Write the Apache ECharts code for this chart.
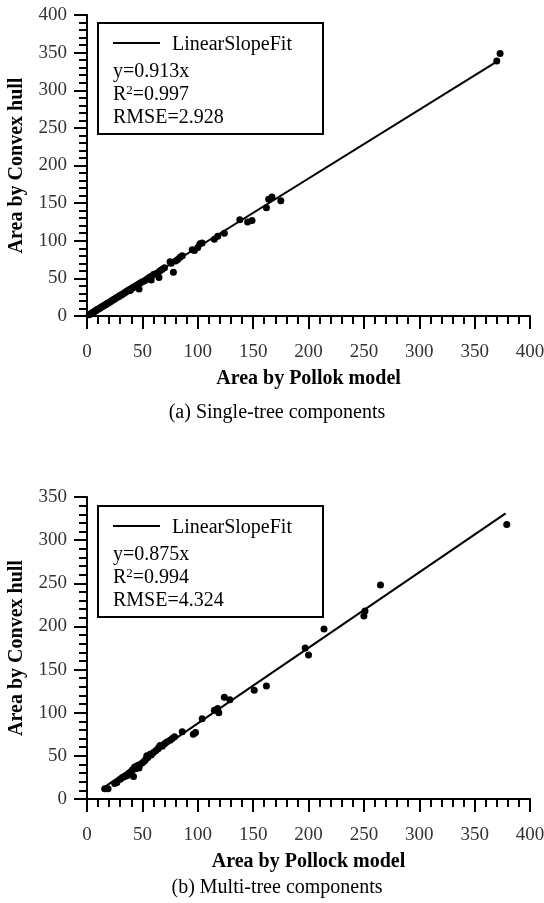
<!DOCTYPE html>
<html>
<head>
<meta charset="utf-8">
<script src="https://cdn.jsdelivr.net/npm/echarts@6/dist/echarts.min.js"></script>
<style>
  html, body { margin: 0; padding: 0; background: #fff; }
  #main { width: 544px; height: 903px; }
</style>
</head>
<body>
<div id="main"></div>
<script>
// (a) single-tree components: [Pollok area, convex hull area]
var singleTree = [
  [2,1.5],[3,2.5],[4,3.5],[5,4.5],[6,5],[7,6.5],[8,7],[9,8.5],[10,9],[11,10],
  [12,10.5],[13,12],[14,12.5],[15,13.5],[16,14.5],[17,15],[18,16.5],[19,17],[20,18],[21,19],
  [22,20],[23,21],[24,22],[25,22.5],[26,24],[27,24.5],[28,25.5],[29,26],[30,27.5],[31,28],
  [32,29],[33,30],[34,31],[35,32],[36,33],[37,34],[38,35],[39,34],[40,36.5],[41,37],
  [42,38.5],[43,39],[44,40],[45,41],[46,42],[47,36],[48,44],[50,45.5],[52,47],[54,49],
  [55,50],[57,52],[58,48],[60,55],[62,56],[64,57.5],[65,51],[66,60],[68,62],[70,64],
  [75,72],[76,70],[78,58],[80,73],[82,75],[84,78],[86,80],[95,88],[97,87],[100,91],
  [102,96],[104,97],[115,102],[118,106],[124,110],[138,128],[145,125],[149,127],[162,144],[164,155],
  [167,158],[175,153],[370,339],[373,349]
];
// (b) multi-tree components
var multiTree = [
  [16,12],[19,12],[25,18],[27,19],[30,23],[32,25],[34,26],[36,27],[38,30],[40,32],
  [41,34],[42,26],[43,37],[44,35],[45,38],[46,39],[47,36],[48,40],[50,42],[52,44],
  [53,46],[54,50],[55,48],[57,52],[58,51],[60,54],[62,56],[64,58],[65,60],[66,62],
  [68,61],[70,64],[72,66],[75,68],[77,70],[79,72],[86,78],[96,75],[98,77],[104,93],
  [115,103],[118,105],[119,100],[124,118],[129,115],[151,126],[162,131],[197,175],[200,167],[214,197],
  [250,212],[251,218],[265,248],[379,318]
];
// fitted line end points
var fitTop = [[0,0],[370,338]];
var fitBottom = [[16,14],[378,331]];

var fitName = 'LinearSlopeFit';
var statsTop = ['y=0.913x', '0.997', 'RMSE=2.928'];
var statsBottom = ['y=0.875x', '0.994', 'RMSE=4.324'];
var xNames = ['Area by Pollok model', 'Area by Pollock model'];
var yName = 'Area by Convex hull';
var captions = ['(a) Single-tree components', '(b) Multi-tree components'];

var FONT = 'Liberation Serif';

function xAxisCfg(gi, name) {
  return {
    gridIndex: gi, type: 'value', min: 0, max: 400, interval: 50,
    name: name, nameLocation: 'middle', nameGap: 53,
    nameTextStyle: { fontFamily: FONT, fontWeight: 'bold', fontSize: 20, color: '#000' },
    axisLine: { onZero: false, lineStyle: { color: '#000', width: 2 } },
    axisTick: { length: 13, lineStyle: { color: '#000', width: 2 } },
    minorTick: { show: true, splitNumber: 5, length: 8, lineStyle: { color: '#000', width: 2 } },
    axisLabel: { fontFamily: FONT, fontSize: 19, color: '#333', margin: 27 },
    splitLine: { show: false }
  };
}
function yAxisCfg(gi, max) {
  return {
    gridIndex: gi, type: 'value', min: 0, max: max, interval: 50,
    name: yName, nameLocation: 'middle', nameGap: 60, nameRotate: 90,
    nameTextStyle: { fontFamily: FONT, fontWeight: 'bold', fontSize: 20, color: '#000' },
    axisLine: { onZero: false, lineStyle: { color: '#000', width: 2 } },
    axisTick: { length: 13, lineStyle: { color: '#000', width: 2 } },
    minorTick: { show: true, splitNumber: 5, length: 8, lineStyle: { color: '#000', width: 2 } },
    axisLabel: { fontFamily: FONT, fontSize: 19, color: '#333', margin: 20 },
    splitLine: { show: false }
  };
}

function legendBox(top, stats) {
  var t = { fontFamily: FONT, fontSize: 20, fill: '#000' };
  return [
    { type: 'rect', shape: { x: 98, y: top, width: 225, height: 111 },
      style: { fill: '#fff', stroke: '#000', lineWidth: 2 }, z: 10 },
    { type: 'line', shape: { x1: 113, y1: top + 20, x2: 160, y2: top + 20 },
      style: { stroke: '#000', lineWidth: 2 }, z: 11 },
    { type: 'text', x: 172, y: top + 22, z: 11,
      style: Object.assign({ text: fitName, verticalAlign: 'middle' }, t) },
    { type: 'text', x: 113, y: top + 49, z: 11,
      style: Object.assign({ text: stats[0], verticalAlign: 'middle' }, t) },
    { type: 'text', x: 113, y: top + 72, z: 11,
      style: {
        text: '{a|R}{s|2}{a|=' + stats[1] + '}', verticalAlign: 'middle',
        rich: {
          a: { fontFamily: FONT, fontSize: 20, color: '#000' },
          s: { fontFamily: FONT, fontSize: 13, color: '#000', verticalAlign: 'top', padding: [0, 0, 9, 0] }
        }
      } },
    { type: 'text', x: 113, y: top + 95, z: 11,
      style: Object.assign({ text: stats[2], verticalAlign: 'middle' }, t) }
  ];
}

var myChart = echarts.init(document.getElementById('main'));
var option = {
  animation: false,
  backgroundColor: '#fff',
  title: [
    { text: captions[0], left: 272, top: 398, textAlign: 'center',
      textStyle: { fontFamily: FONT, fontSize: 20, fontWeight: 'normal', color: '#000' } },
    { text: captions[1], left: 272, top: 873, textAlign: 'center',
      textStyle: { fontFamily: FONT, fontSize: 20, fontWeight: 'normal', color: '#000' } }
  ],
  grid: [
    { left: 87, top: 15, width: 443, height: 301, outerBoundsMode: 'none' },
    { left: 87, top: 497, width: 443, height: 302, outerBoundsMode: 'none' }
  ],
  xAxis: [xAxisCfg(0, xNames[0]), xAxisCfg(1, xNames[1])],
  yAxis: [yAxisCfg(0, 400), yAxisCfg(1, 350)],
  series: [
    { type: 'scatter', xAxisIndex: 0, yAxisIndex: 0, data: singleTree,
      symbolSize: 7, itemStyle: { color: '#000', opacity: 1 } },
    { type: 'line', xAxisIndex: 0, yAxisIndex: 0, data: fitTop, showSymbol: false,
      lineStyle: { color: '#000', width: 2 } },
    { type: 'scatter', xAxisIndex: 1, yAxisIndex: 1, data: multiTree,
      symbolSize: 7, itemStyle: { color: '#000', opacity: 1 } },
    { type: 'line', xAxisIndex: 1, yAxisIndex: 1, data: fitBottom, showSymbol: false,
      lineStyle: { color: '#000', width: 2 } }
  ],
  graphic: legendBox(23, statsTop).concat(legendBox(506, statsBottom))
};
myChart.setOption(option);
</script>
</body>
</html>
